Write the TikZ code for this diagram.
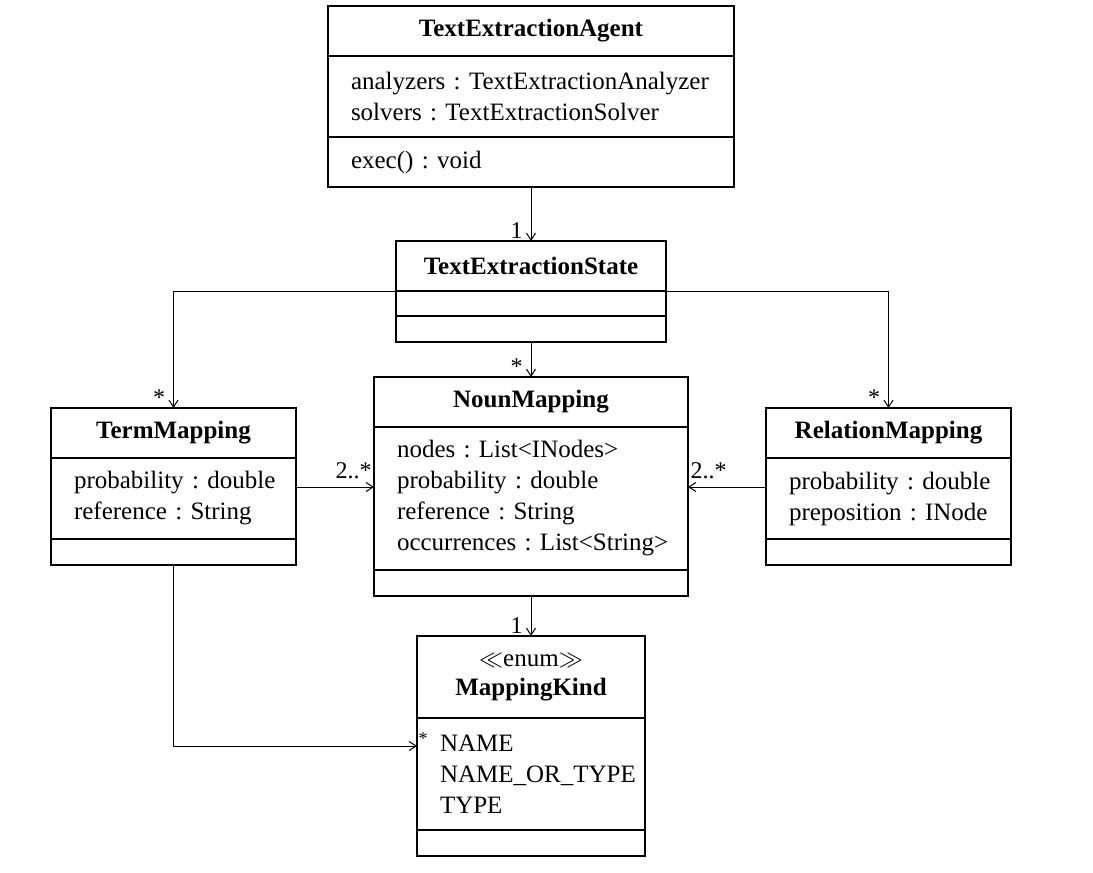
\documentclass[tikz,border=0pt]{standalone}
\usepackage{fontspec}
\setmainfont{Liberation Serif}
\frenchspacing
\usetikzlibrary{arrows.meta,positioning}
\tikzset{
  classname/.style = {rectangle, draw=black, line width=0.6pt,
                      minimum width=#1, minimum height=25pt,
                      inner sep=0pt, outer sep=0pt,
                      font=\fontsize{12.5}{15.5}\selectfont\bfseries,
                      align=center, anchor=north},
  classattr/.style = {rectangle, draw=black, line width=0.6pt,
                      text width=#1, inner xsep=11.5pt, inner ysep=0pt,
                      outer sep=0pt, align=left, anchor=north},
  classops/.style  = {rectangle, draw=black, line width=0.6pt,
                      minimum width=#1, minimum height=13pt,
                      inner sep=0pt, outer sep=0pt, anchor=north},
  myarrow/.style   = {-{Straight Barb[length=3.5pt,width=4.5pt]},
                      line width=0.5pt},
  mult/.style      = {font=\fontsize{12}{12}\selectfont, inner sep=1pt},
}

\begin{document}
\begin{tikzpicture}[x=0.5pt, y=-0.5pt,
                    font=\fontsize{12.5}{15.5}\selectfont]
  \useasboundingbox (0,0) rectangle (1093,873);

  %% ---- Agent ----
  \node[classname=203pt] (agent) at (531,6) {TextExtractionAgent};
  \node[classattr=180pt, minimum height=40.5pt, below=0pt of agent]
        (agent-attr) {\mbox{analyzers : TextExtractionAnalyzer}\\
                      solvers : TextExtractionSolver};
  \node[classattr=180pt, minimum height=25pt, below=0pt of agent-attr]
        (agent-ops)  {exec() : void};

  %% ---- State ----
  \node[classname=135pt] (state) at (531,241) {TextExtractionState};
  \node[classops=135pt, minimum height=12.5pt, below=0pt of state]
        (state-attr) {};
  \node[classops=135pt, below=0pt of state-attr] (state-ops) {};

  %% ---- NounMapping ----
  \node[classname=157pt] (noun) at (531,377) {NounMapping};
  \node[classattr=134pt, minimum height=71.5pt, below=0pt of noun]
        (noun-attr) {nodes : List<INodes>\\
                     probability : double\\
                     reference : String\\
                     \mbox{occurrences : List<String>}};
  \node[classops=157pt, below=0pt of noun-attr] (noun-ops) {};

  %% ---- TermMapping ----
  \node[classname=122.5pt] (term) at (173.5,408) {TermMapping};
  \node[classattr=99.5pt, minimum height=40.5pt, below=0pt of term]
        (term-attr) {\mbox{probability : double}\\
                     reference : String};
  \node[classops=122.5pt, below=0pt of term-attr] (term-ops) {};

  %% ---- RelationMapping ----
  \node[classname=122.5pt] (rel) at (888.5,408) {RelationMapping};
  \node[classattr=99.5pt, minimum height=40.5pt, below=0pt of rel]
        (rel-attr) {\mbox{probability : double}\\
                    \mbox{preposition : INode}};
  \node[classops=122.5pt, below=0pt of rel-attr] (rel-ops) {};

  %% ---- MappingKind ----
  \node[classname=114pt, minimum height=41pt,
        font=\fontsize{12.5}{14.5}\selectfont] (kind) at (531,636)
        {$\ll$enum$\gg$\\ \textbf{MappingKind}};
  \node[classattr=91pt, minimum height=56pt, below=0pt of kind]
        (kind-attr) {NAME\\
                     NAME\_OR\_TYPE\\
                     TYPE};
  \node[classops=114pt, below=0pt of kind-attr] (kind-ops) {};

  %% ---- Associations ----
  \draw[myarrow] (agent-ops.south) -- (state.north)
        node[mult, pos=1, anchor=south east, xshift=-3pt] {1};
  \draw[myarrow] (state-ops.south) -- (noun.north)
        node[mult, pos=1, anchor=south east, xshift=-3pt] {*};
  \draw[myarrow] (state.south west) -| (term.north)
        node[mult, pos=1, anchor=south east, xshift=-3pt] {*};
  \draw[myarrow] (state.south east) -| (rel.north)
        node[mult, pos=1, anchor=south east, xshift=-3pt] {*};

  \coordinate (tn) at ([yshift=5.75pt]term-attr.east);
  \coordinate (rn) at ([yshift=5.75pt]rel-attr.west);
  \draw[myarrow] (tn) -- (tn -| noun-attr.west)
        node[mult, pos=1, anchor=south east, yshift=3pt] {2..*};
  \draw[myarrow] (rn) -- (rn -| noun-attr.east)
        node[mult, pos=1, anchor=south west, yshift=3pt] {2..*};

  \draw[myarrow] (noun-ops.south) -- (kind.north)
        node[mult, pos=1, anchor=south east, xshift=-3pt] {1};

  \coordinate (kw) at ([yshift=14pt]kind-attr.west);
  \draw[myarrow] (term-ops.south) |- (kw)
        node[pos=1, anchor=south west, font=\small, inner sep=0.5pt] {*};

\end{tikzpicture}
\end{document}
